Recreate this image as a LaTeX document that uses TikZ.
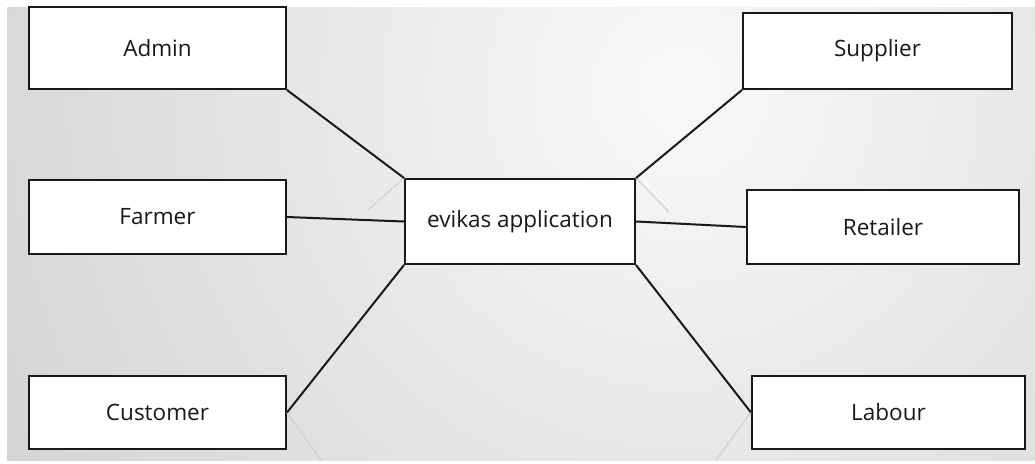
\documentclass[tikz,border=0pt]{standalone}
\usepackage{fontspec}
\setmainfont{Open Sans}
\begin{document}
\begin{tikzpicture}[x=1pt,y=-1pt,
  entity/.style={draw=black!90, line width=2pt, fill=white, rectangle,
    inner sep=0pt, font=\fontsize{22.5}{26}\selectfont, text=black!90},
  link/.style={draw=black!90, line width=2pt},
  glint/.style={draw=black!18, line width=1.3pt, line cap=round}]
\useasboundingbox (0,0) rectangle (1035,463);
\fill[white] (0,0) rectangle (1035,463);
\begin{scope}
  \clip (7,7) rectangle (1035,460);
  \shade[inner color=gray!5, outer color=gray!48] (680,90) circle (1150);
\end{scope}
% nodes
\node[entity, minimum width=257pt, minimum height=82pt] (admin) at (157.5,48) {Admin};
\node[entity, minimum width=257pt, minimum height=74pt] (farmer) at (157.5,217) {Farmer};
\node[entity, minimum width=257pt, minimum height=73pt] (customer) at (157.5,412.5) {Customer};
\node[entity, minimum width=230pt, minimum height=85pt] (app) at (520,221.5) {evikas application};
\node[entity, minimum width=269pt, minimum height=76pt] (supplier) at (877.5,51) {Supplier};
\node[entity, minimum width=272pt, minimum height=74pt] (retailer) at (883,227) {Retailer};
\node[entity, minimum width=273pt, minimum height=73pt] (labour) at (888.5,412.5) {Labour};
% faint reflections
\coordinate (r1) at (368,210);
\coordinate (r2) at (669,212);
\coordinate (r3) at (321,460);
\coordinate (r4) at (716,460);
\draw[glint] (app.north west) -- (r1);
\draw[glint] (app.north east) -- (r2);
\draw[glint] (customer.east) -- (r3);
\draw[glint] (labour.west) -- (r4);
% connectors
\draw[link] (admin.south east) -- (app.north west);
\draw[link] (farmer.east) -- (app.west);
\draw[link] (customer.east) -- (app.south west);
\draw[link] (supplier.south west) -- (app.north east);
\draw[link] (app.east) -- (retailer.west);
\draw[link] (app.south east) -- (labour.west);
\end{tikzpicture}
\end{document}
